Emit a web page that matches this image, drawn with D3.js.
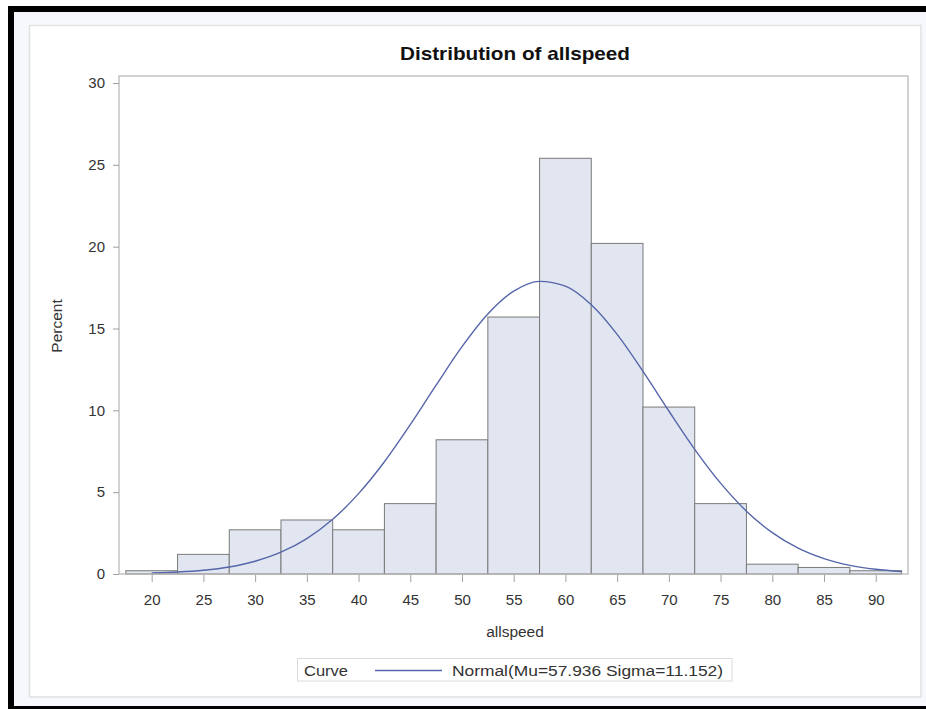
<!DOCTYPE html>
<html>
<head>
<meta charset="utf-8">
<script src="https://cdn.jsdelivr.net/npm/d3@7/dist/d3.min.js"></script>
<style>
  html, body { margin: 0; padding: 0; background: #ffffff; }
  svg { display: block; }
  text { font-family: "Liberation Sans", Arial, sans-serif; }
</style>
</head>
<body>
<svg id="chart" width="926" height="709"></svg>
<script>
// ---- data ----
const binMids = [20, 25, 30, 35, 40, 45, 50, 55, 60, 65, 70, 75, 80, 85, 90];
const binPercents = [0.2, 1.2, 2.7, 3.3, 2.7, 4.3, 8.2, 15.7, 25.4, 20.2, 10.2, 4.3, 0.6, 0.4, 0.2];
const binWidth = 5;
const curveX = [20, 22.5, 25, 27.5, 30, 32.5, 35, 37.5, 40, 42.5, 45, 47.5, 50, 52.5, 55, 57.5,
                60, 62.5, 65, 67.5, 70, 72.5, 75, 77.5, 80, 82.5, 85, 87.5, 90, 92.5];
const curveY = [0.06, 0.12, 0.23, 0.43, 0.78, 1.33, 2.16, 3.34, 4.91, 6.86, 9.13, 11.54, 13.89, 15.89, 17.28, 17.88,
                17.59, 16.45, 14.64, 12.38, 9.96, 7.62, 5.55, 3.84, 2.53, 1.58, 0.94, 0.53, 0.29, 0.15];
const xTicks = [20, 25, 30, 35, 40, 45, 50, 55, 60, 65, 70, 75, 80, 85, 90];
const yTicks = [0, 5, 10, 15, 20, 25, 30];
const titleText = "Distribution of allspeed";
const xLabel = "allspeed";
const yLabel = "Percent";
const legendTitle = "Curve";
const legendLabel = "Normal(Mu=57.936 Sigma=11.152)";

// ---- layout ----
const svg = d3.select("#chart");
const plot = { left: 119, right: 908, top: 76, bottom: 574 };

// outer screenshot frame
svg.append("rect").attr("x", 8).attr("y", 6).attr("width", 926 - 8).attr("height", 709 - 6).attr("fill", "#000");
svg.append("rect").attr("x", 14).attr("y", 12).attr("width", 926 - 14).attr("height", 706 - 12).attr("fill", "#f7f8fd");
// inner white graph area
svg.append("rect").attr("x", 29.5).attr("y", 25.5).attr("width", 921 - 29.5).attr("height", 697 - 25.5)
  .attr("fill", "#ffffff").attr("stroke", "#e2e2e2").attr("stroke-width", 1.5);

const x = d3.scaleLinear().domain([16.84, 93.12]).range([plot.left, plot.right]);
const y = d3.scaleLinear().domain([0, 30]).range([574, 83]);

// bars
svg.append("g").selectAll("rect").data(binMids).join("rect")
  .attr("x", (d) => x(d - binWidth / 2))
  .attr("y", (d, i) => y(binPercents[i]))
  .attr("width", (d) => x(d + binWidth / 2) - x(d - binWidth / 2))
  .attr("height", (d, i) => y(0) - y(binPercents[i]))
  .attr("fill", "#e1e6f0")
  .attr("stroke", "#7a7a7a")
  .attr("stroke-width", 1);

// normal curve
const line = d3.line().x((d) => x(d[0])).y((d) => y(d[1])).curve(d3.curveMonotoneX);
svg.append("path").datum(curveX.map((v, i) => [v, curveY[i]]))
  .attr("d", line).attr("fill", "none").attr("stroke", "#5566aa").attr("stroke-width", 1.4);

// plot frame
svg.append("rect").attr("x", plot.left).attr("y", plot.top)
  .attr("width", plot.right - plot.left).attr("height", plot.bottom - plot.top)
  .attr("fill", "none").attr("stroke", "#b4b4b4").attr("stroke-width", 1.2);

// axes
const yAxis = svg.append("g").attr("transform", `translate(${plot.left},0)`)
  .call(d3.axisLeft(y).tickValues(yTicks).tickSize(6).tickPadding(8).tickSizeOuter(0));
yAxis.select(".domain").remove();
yAxis.selectAll(".tick line").attr("stroke", "#a0a0a0");
yAxis.selectAll(".tick text").attr("fill", "#333").style("font-size", "15px")
  .style("font-family", "'Liberation Sans', Arial, sans-serif");

const xAxis = svg.append("g").attr("transform", `translate(0,${plot.bottom + 1})`)
  .call(d3.axisBottom(x).tickValues(xTicks).tickSize(7).tickPadding(12).tickSizeOuter(0));
xAxis.select(".domain").remove();
xAxis.selectAll(".tick line").attr("stroke", "#a0a0a0");
xAxis.selectAll(".tick text").attr("fill", "#333").style("font-size", "15px")
  .style("font-family", "'Liberation Sans', Arial, sans-serif");

// title & labels
svg.append("text").attr("x", 515).attr("y", 60).attr("text-anchor", "middle")
  .attr("textLength", 230).attr("lengthAdjust", "spacingAndGlyphs")
  .style("font-size", "19px").style("font-weight", "bold").attr("fill", "#111").text(titleText);
svg.append("text").attr("x", 515).attr("y", 637).attr("text-anchor", "middle")
  .style("font-size", "15.5px").attr("fill", "#333").text(xLabel);
svg.append("text").attr("transform", "translate(62,326) rotate(-90)").attr("text-anchor", "middle")
  .style("font-size", "15.5px").attr("fill", "#333").text(yLabel);

// legend
const lg = svg.append("g");
lg.append("rect").attr("x", 297.5).attr("y", 658.5).attr("width", 732 - 297.5).attr("height", 681 - 658.5)
  .attr("fill", "#fff").attr("stroke", "#dcdcdc").attr("stroke-width", 1);
lg.append("text").attr("x", 304).attr("y", 676)
  .attr("textLength", 44).attr("lengthAdjust", "spacingAndGlyphs")
  .style("font-size", "15.5px").attr("fill", "#333").text(legendTitle);
lg.append("line").attr("x1", 375).attr("x2", 442).attr("y1", 670.5).attr("y2", 670.5)
  .attr("stroke", "#5566aa").attr("stroke-width", 1.6);
lg.append("text").attr("x", 452).attr("y", 676)
  .attr("textLength", 271).attr("lengthAdjust", "spacingAndGlyphs")
  .style("font-size", "15.5px").attr("fill", "#333").text(legendLabel);
</script>
</body>
</html>
